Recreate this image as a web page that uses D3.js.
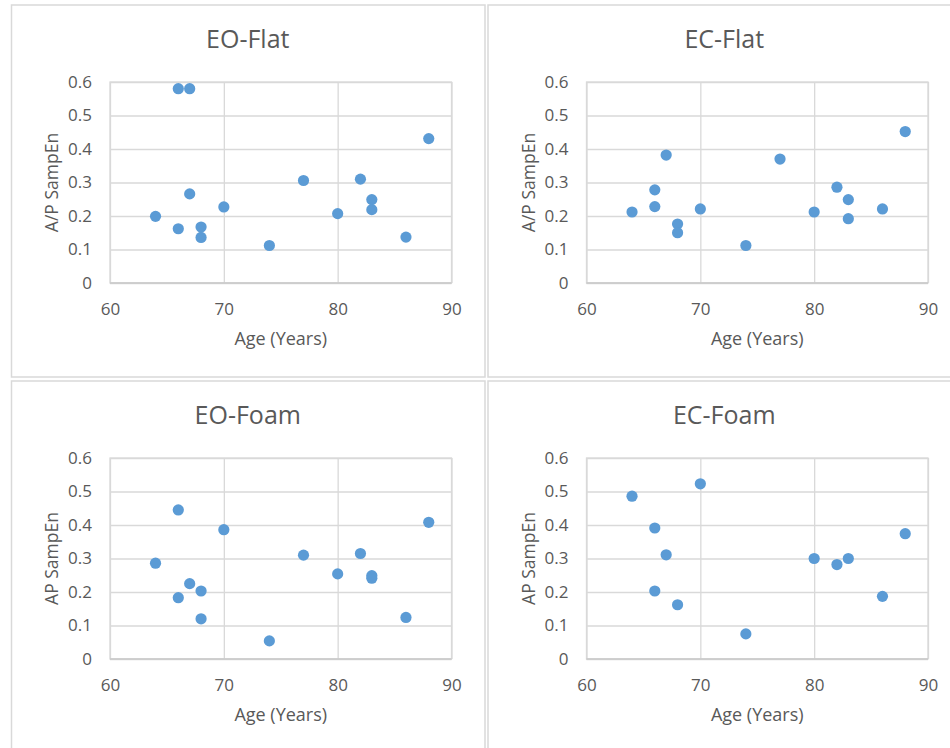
<!DOCTYPE html>
<html>
<head>
<meta charset="utf-8">
<script src="https://cdn.jsdelivr.net/npm/d3@7"></script>
<style>
  body { margin: 0; background: #fff; }
  svg text { font-family: "Open Sans", "Noto Sans", sans-serif; fill: #595959; }
</style>
</head>
<body>
<svg id="chart" width="950" height="748"></svg>
<script>
// chart data
var panelTitles = ["EO-Flat", "EC-Flat", "EO-Foam", "EC-Foam"];
var yTitles = ["A/P SampEn", "A/P SampEn", "AP SampEn", "AP SampEn"];

var eoFlatAge = [66, 67, 64, 66, 67, 68, 68, 70, 74, 77, 80, 82, 83, 83, 86, 88];
var eoFlatSampEn = [0.580, 0.580, 0.199, 0.162, 0.266, 0.167, 0.136, 0.227, 0.112, 0.306, 0.207, 0.310, 0.249, 0.219, 0.137, 0.431];

var ecFlatAge = [64, 66, 66, 67, 68, 68, 70, 74, 77, 80, 82, 83, 83, 86, 88];
var ecFlatSampEn = [0.212, 0.278, 0.228, 0.382, 0.176, 0.150, 0.221, 0.112, 0.370, 0.212, 0.286, 0.249, 0.192, 0.221, 0.452];

var eoFoamAge = [66, 70, 64, 67, 66, 68, 68, 74, 77, 80, 82, 83, 83, 86, 88];
var eoFoamSampEn = [0.445, 0.386, 0.286, 0.225, 0.183, 0.203, 0.120, 0.054, 0.310, 0.254, 0.315, 0.249, 0.241, 0.124, 0.408];

var ecFoamAge = [64, 70, 66, 67, 66, 68, 74, 80, 82, 83, 86, 88];
var ecFoamSampEn = [0.486, 0.523, 0.391, 0.311, 0.203, 0.162, 0.075, 0.300, 0.282, 0.300, 0.187, 0.374];

var xTicks = [60, 70, 80, 90];
var yTicks = [0, 0.1, 0.2, 0.3, 0.4, 0.5, 0.6];

var ages = [eoFlatAge, ecFlatAge, eoFoamAge, ecFoamAge];
var values = [eoFlatSampEn, ecFlatSampEn, eoFoamSampEn, ecFoamSampEn];

var svg = d3.select("#chart");

var panelW = 473.5, panelH = 372;
var panelPos = [[11.5, 5], [488, 5], [11.5, 381], [488, 381]];
var plot = {left: 98.5, top: 77, width: 341.5, height: 201};

function drawPanel(i) {
    var px = panelPos[i][0], py = panelPos[i][1];
    var g = svg.append("g").attr("transform", `translate(${px}, ${py})`);

    // panel frame
    g.append("rect")
        .attr("width", panelW)
        .attr("height", panelH)
        .attr("fill", "#fff")
        .attr("stroke", "#d9d9d9")
        .attr("stroke-width", 1.5);

    var xScale = d3.scaleLinear().domain([60, 90]).range([0, plot.width]);
    var yScale = d3.scaleLinear().domain([0, 0.6]).range([plot.height, 0]);

    var chart = g.append("g").attr("transform", `translate(${plot.left}, ${plot.top})`);

    // gridlines
    chart.append("g")
        .call(d3.axisLeft(yScale).tickValues(yTicks).tickSize(-plot.width).tickFormat(""))
        .call(a => a.select(".domain").remove())
        .selectAll("line").attr("stroke", "#d9d9d9").attr("stroke-width", 1.3);
    chart.append("g")
        .attr("transform", `translate(0, ${plot.height})`)
        .call(d3.axisBottom(xScale).tickValues(xTicks).tickSize(-plot.height).tickFormat(""))
        .call(a => a.select(".domain").remove())
        .selectAll("line").attr("stroke", "#d9d9d9").attr("stroke-width", 1.3);

    // plot border
    chart.append("rect")
        .attr("width", plot.width)
        .attr("height", plot.height)
        .attr("fill", "none")
        .attr("stroke", "#d9d9d9")
        .attr("stroke-width", 1.3);
    chart.append("line")
        .attr("x1", 0).attr("x2", plot.width)
        .attr("y1", plot.height).attr("y2", plot.height)
        .attr("stroke", "#c8c8c8").attr("stroke-width", 1.3);

    // tick labels via axes
    var xAxis = chart.append("g")
        .attr("transform", `translate(0, ${plot.height})`)
        .call(d3.axisBottom(xScale).tickValues(xTicks).tickSize(0).tickPadding(20).tickFormat(d3.format("d")));
    xAxis.select(".domain").remove();
    xAxis.selectAll("text").attr("font-size", "17px").attr("fill", "#595959");

    var yAxis = chart.append("g")
        .call(d3.axisLeft(yScale).tickValues(yTicks).tickSize(0).tickPadding(18).tickFormat(d => d === 0 ? "0" : d3.format(".1f")(d)));
    yAxis.select(".domain").remove();
    yAxis.selectAll("text").attr("font-size", "17px").attr("fill", "#595959");
    g.selectAll("g").attr("font-family", null);

    // points
    var pts = ages[i].map((a, k) => ({age: a, v: values[i][k]}));
    chart.selectAll("circle")
        .data(pts)
        .join("circle")
        .attr("cx", d => xScale(d.age))
        .attr("cy", d => yScale(d.v))
        .attr("r", 5.6)
        .attr("fill", "#5b9bd5");

    // titles
    g.append("text")
        .attr("x", plot.left + plot.width / 2 - 33)
        .attr("y", 43)
        .attr("text-anchor", "middle")
        .attr("font-size", "25px")
        .text(panelTitles[i]);

    chart.append("text")
        .attr("x", plot.width / 2)
        .attr("y", plot.height + 62)
        .attr("text-anchor", "middle")
        .attr("font-size", "18px")
        .text("Age (Years)");

    chart.append("text")
        .attr("transform", `translate(-52, ${plot.height / 2}) rotate(-90)`)
        .attr("text-anchor", "middle")
        .attr("font-size", "17.5px")
        .text(yTitles[i]);
}

for (var i = 0; i < 4; i++) drawPanel(i);
</script>
</body>
</html>
